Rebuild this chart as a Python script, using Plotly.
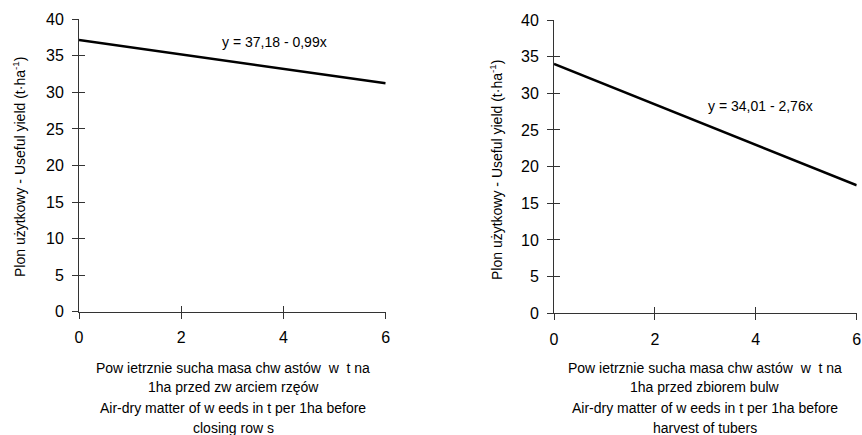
import plotly.graph_objects as go

# Data
x_vals = [0, 6]
left_intercept, left_slope = 37.18, -0.99
right_intercept, right_slope = 34.01, -2.76
left_y = [left_intercept + left_slope * x for x in x_vals]
right_y = [right_intercept + right_slope * x for x in x_vals]
left_eq = "y = 37,18 - 0,99x"
right_eq = "y = 34,01 - 2,76x"
y_title = "Plon użytkowy - Useful yield (t·ha<sup>-1</sup>)"
left_xtitle = ["Pow ietrznie sucha masa chw astów  w  t na", "1ha przed zw arciem rzęów",
               "Air-dry matter of w eeds in t per 1ha before", "closing row s"]
right_xtitle = ["Pow ietrznie sucha masa chw astów  w  t na", "1ha przed zbiorem bulw",
                "Air-dry matter of w eeds in t per 1ha before", "harvest of tubers"]
x_ticks = [0, 2, 4, 6]
y_ticks = [0, 5, 10, 15, 20, 25, 30, 35, 40]

W, H = 862, 435
FONT = "Liberation Sans, Arial, sans-serif"

fig = go.Figure()
fig.add_trace(go.Scatter(x=x_vals, y=left_y, mode="lines", line=dict(color="black", width=2.5),
                         xaxis="x", yaxis="y", showlegend=False, cliponaxis=False))
fig.add_trace(go.Scatter(x=x_vals, y=right_y, mode="lines", line=dict(color="black", width=2.5),
                         xaxis="x2", yaxis="y2", showlegend=False, cliponaxis=False))

def px_x(p):
    return p / W

def px_y(p):
    return (H - p) / H

L = dict(x0=79, x1=385.7, ytop=19.3, ybot=311.7)
R = dict(x0=554, x1=856.7, ytop=20, ybot=313.3)

common_x = dict(range=[0, 6], tickvals=x_ticks, showline=True, linecolor="#333", linewidth=1,
                ticks="outside", ticklen=6, tickcolor="#333", showgrid=False, zeroline=False,
                automargin=False,
                tickfont=dict(size=16, color="black", family=FONT), ticklabelstandoff=5)
common_y = dict(range=[0, 40], tickvals=y_ticks, showline=True, linecolor="#333", linewidth=1,
                ticks="outside", ticklen=6, tickcolor="#333", showgrid=False, zeroline=False,
                automargin=False,
                tickfont=dict(size=16, color="black", family=FONT), ticklabelstandoff=5)
inner_x = dict(range=[0, 6], tickvals=x_ticks, showline=False, ticks="inside", ticklen=6,
               tickcolor="#333", showgrid=False, zeroline=False, showticklabels=False, automargin=False)
inner_y = dict(range=[0, 40], tickvals=y_ticks, showline=False, ticks="inside", ticklen=6,
               tickcolor="#333", showgrid=False, zeroline=False, showticklabels=False, automargin=False)

fig.update_layout(
    width=W, height=H, margin=dict(l=0, r=0, t=0, b=0, autoexpand=False),
    paper_bgcolor="white", plot_bgcolor="white",
    font=dict(family=FONT, color="black"),
    xaxis=dict(domain=[px_x(L["x0"]), px_x(L["x1"])], anchor="y", **common_x),
    yaxis=dict(domain=[px_y(L["ybot"]), px_y(L["ytop"])], anchor="x", **common_y),
    xaxis2=dict(domain=[px_x(R["x0"]), px_x(R["x1"])], anchor="y2", **common_x),
    yaxis2=dict(domain=[px_y(R["ybot"]), px_y(R["ytop"])], anchor="x2", **common_y),
    xaxis3=dict(overlaying="x", anchor="y", **inner_x),
    yaxis3=dict(overlaying="y", anchor="x", **inner_y),
    xaxis4=dict(overlaying="x2", anchor="y2", **inner_x),
    yaxis4=dict(overlaying="y2", anchor="x2", **inner_y),
)

# invisible traces to activate the overlay axes
fig.add_trace(go.Scatter(x=[0], y=[0], mode="markers", marker=dict(opacity=0), xaxis="x3", yaxis="y3",
                         showlegend=False, hoverinfo="skip"))
fig.add_trace(go.Scatter(x=[0], y=[0], mode="markers", marker=dict(opacity=0), xaxis="x4", yaxis="y4",
                         showlegend=False, hoverinfo="skip"))

TS = 14
ann = []
ann.append(dict(x=3.83, y=36.9, xref="x", yref="y", text=left_eq, showarrow=False,
                font=dict(size=TS, family=FONT)))
ann.append(dict(x=4.10, y=28.27, xref="x2", yref="y2", text=right_eq, showarrow=False,
                font=dict(size=TS, family=FONT)))
ann.append(dict(x=px_x(19), y=px_y(167), xref="paper", yref="paper", text=y_title, textangle=-90,
                xanchor="center", yanchor="middle",
                showarrow=False, font=dict(size=TS, family=FONT)))
ann.append(dict(x=px_x(496), y=px_y(170), xref="paper", yref="paper", text=y_title, textangle=-90,
                xanchor="center", yanchor="middle",
                showarrow=False, font=dict(size=TS, family=FONT)))
line_ys = [368, 387, 408, 428]
for cx, lines in [(233, left_xtitle), (705, right_xtitle)]:
    for ly, t in zip(line_ys, lines):
        ann.append(dict(x=px_x(cx), y=px_y(ly), xref="paper", yref="paper", text=t, showarrow=False,
                        font=dict(size=TS, family=FONT), xanchor="center", yanchor="middle"))
fig.update_layout(annotations=ann)

fig.write_html("out.html", config={"displayModeBar": False},
               post_script="document.body.style.margin='0';document.body.style.overflow='hidden';")
